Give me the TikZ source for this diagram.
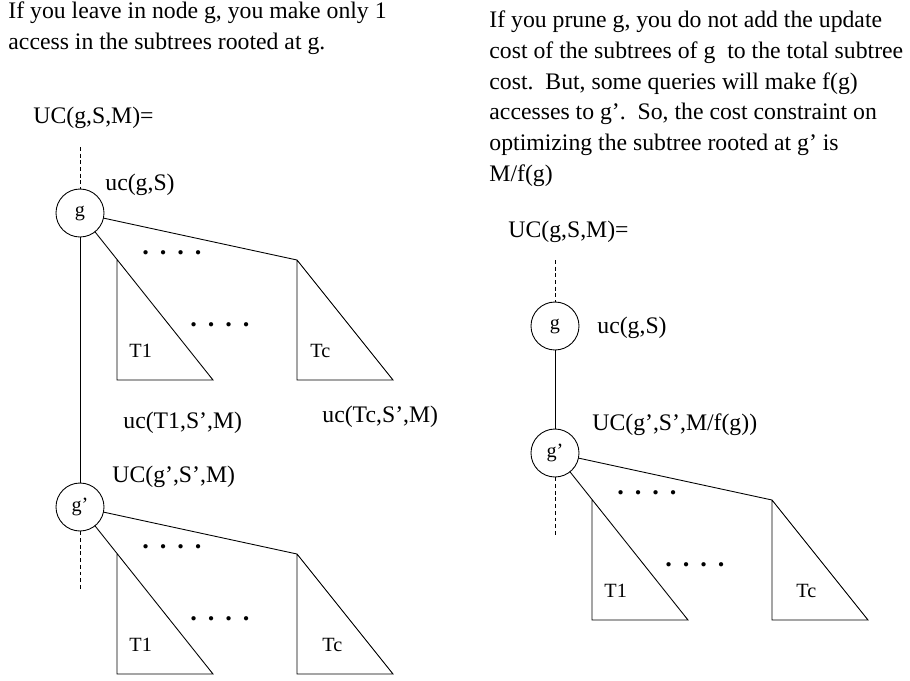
\documentclass[tikz,border=0pt]{standalone}
\usepackage{fontspec}
\setmainfont{Liberation Serif}
\usepackage{tikz}
\usetikzlibrary{calc,positioning}

\begin{document}
\begin{tikzpicture}[x=0.2mm,y=-0.2mm,line width=0.5pt,
  vertex/.style={draw,circle,minimum size=48*0.2mm,inner sep=0pt,font=\fontsize{11.5}{13}\selectfont},
  lbl/.style={anchor=base west,inner sep=0pt,font=\fontsize{13.5}{16}\selectfont},
  sublbl/.style={anchor=base west,inner sep=0pt,font=\fontsize{11.5}{13}\selectfont},
  note/.style={anchor=north west,inner sep=0pt,align=left,font=\fontsize{13.5}{17.6}\selectfont},
  dotrow/.style={inner sep=0pt,font=\fontsize{15}{17}\selectfont\bfseries}]
\useasboundingbox (0,0) rectangle (910,680);

% left: g is kept
\node[note] (leavetxt) at (8,1) {If you leave in node g, you make only 1\\access in the subtrees rooted at g.};
\node[lbl] (ucL) at (33,123) {UC(g,S,M)=};
\node[vertex] (gL) at (80,213) {g};
\node[vertex] (gpL) at (80,507) {g'};
\coordinate (topL) at (80,147);
\coordinate (botL) at (80,590);
\draw[dash pattern=on 2.2pt off 1.6pt] (topL) -- (gL);
\draw[dash pattern=on 2.2pt off 1.6pt] (gpL) -- (botL);
\draw (gL) -- (gpL);
\node[lbl] (ucgL) at (105,190) {uc(g,S)};

% subtrees of g
\coordinate (t1cL) at (213,380);
\coordinate (t1aL) at ($(gL.center)!0.278!(t1cL)$);
\coordinate (tcaL) at (297,260);
\coordinate (tccL) at (393,380);
\draw (gL) -- (t1cL) -- (t1aL |- t1cL) -- (t1aL);
\draw (gL) -- (tcaL) -- (tcaL |- tccL) -- (tccL) -- (tcaL);
\node[dotrow] (d1L) at (172,253) {.\hspace{6.2pt}.\hspace{6.2pt}.\hspace{6.2pt}.};
\node[dotrow] (d2L) at (220,325) {.\hspace{6.2pt}.\hspace{6.2pt}.\hspace{6.2pt}.};
\node[sublbl] (t1L) at (129,357) {T1};
\node[sublbl] (tcL) at (310,357) {Tc};
\node[lbl] (uct1L) at (123,428) {uc(T1,S',M)};
\node[lbl] (uctcL) at (322,422) {uc(Tc,S',M)};
\node[lbl] (UCgpL) at (112,482) {UC(g',S',M)};

% subtrees of g'
\coordinate (t1cLb) at (213,674);
\coordinate (t1aLb) at ($(gpL.center)!0.278!(t1cLb)$);
\coordinate (tcaLb) at (297,554);
\coordinate (tccLb) at (393,674);
\draw (gpL) -- (t1cLb) -- (t1aLb |- t1cLb) -- (t1aLb);
\draw (gpL) -- (tcaLb) -- (tcaLb |- tccLb) -- (tccLb) -- (tcaLb);
\node[dotrow] (d1Lb) at (172,547) {.\hspace{6.2pt}.\hspace{6.2pt}.\hspace{6.2pt}.};
\node[dotrow] (d2Lb) at (220,619) {.\hspace{6.2pt}.\hspace{6.2pt}.\hspace{6.2pt}.};
\node[sublbl] (t1Lb) at (129,651) {T1};
\node[sublbl] (tcLb) at (322,651) {Tc};

% right: g is pruned
\node[note] (prunetxt) at (489,10) {If you prune g, you do not add the update\\cost of the subtrees of g\ \ to the total subtree\\cost.\ \ But, some queries will make f(g)\\accesses to g'.\ \ So, the cost constraint on\\optimizing the subtree rooted at g' is\\M/f(g)};
\node[lbl] (ucR) at (508,237) {UC(g,S,M)=};
\node[vertex] (gR) at (555,326) {g};
\node[vertex] (gpR) at (555,453) {g'};
\coordinate (topR) at (555,260);
\coordinate (botR) at (555,537);
\draw[dash pattern=on 2.2pt off 1.6pt] (topR) -- (gR);
\draw[dash pattern=on 2.2pt off 1.6pt] (gpR) -- (botR);
\draw (gR) -- (gpR);
\node[lbl] (ucgR) at (597,333) {uc(g,S)};
\node[lbl] (UCgpR) at (592,430) {UC(g',S',M/f(g))};

\coordinate (t1cR) at (688,620);
\coordinate (t1aR) at ($(gpR.center)!0.278!(t1cR)$);
\coordinate (tcaR) at (772,500);
\coordinate (tccR) at (868,620);
\draw (gpR) -- (t1cR) -- (t1aR |- t1cR) -- (t1aR);
\draw (gpR) -- (tcaR) -- (tcaR |- tccR) -- (tccR) -- (tcaR);
\node[dotrow] (d1R) at (647,493) {.\hspace{6.2pt}.\hspace{6.2pt}.\hspace{6.2pt}.};
\node[dotrow] (d2R) at (695,565) {.\hspace{6.2pt}.\hspace{6.2pt}.\hspace{6.2pt}.};
\node[sublbl] (t1R) at (604,597) {T1};
\node[sublbl] (tcR) at (796,597) {Tc};
\end{tikzpicture}
\end{document}
